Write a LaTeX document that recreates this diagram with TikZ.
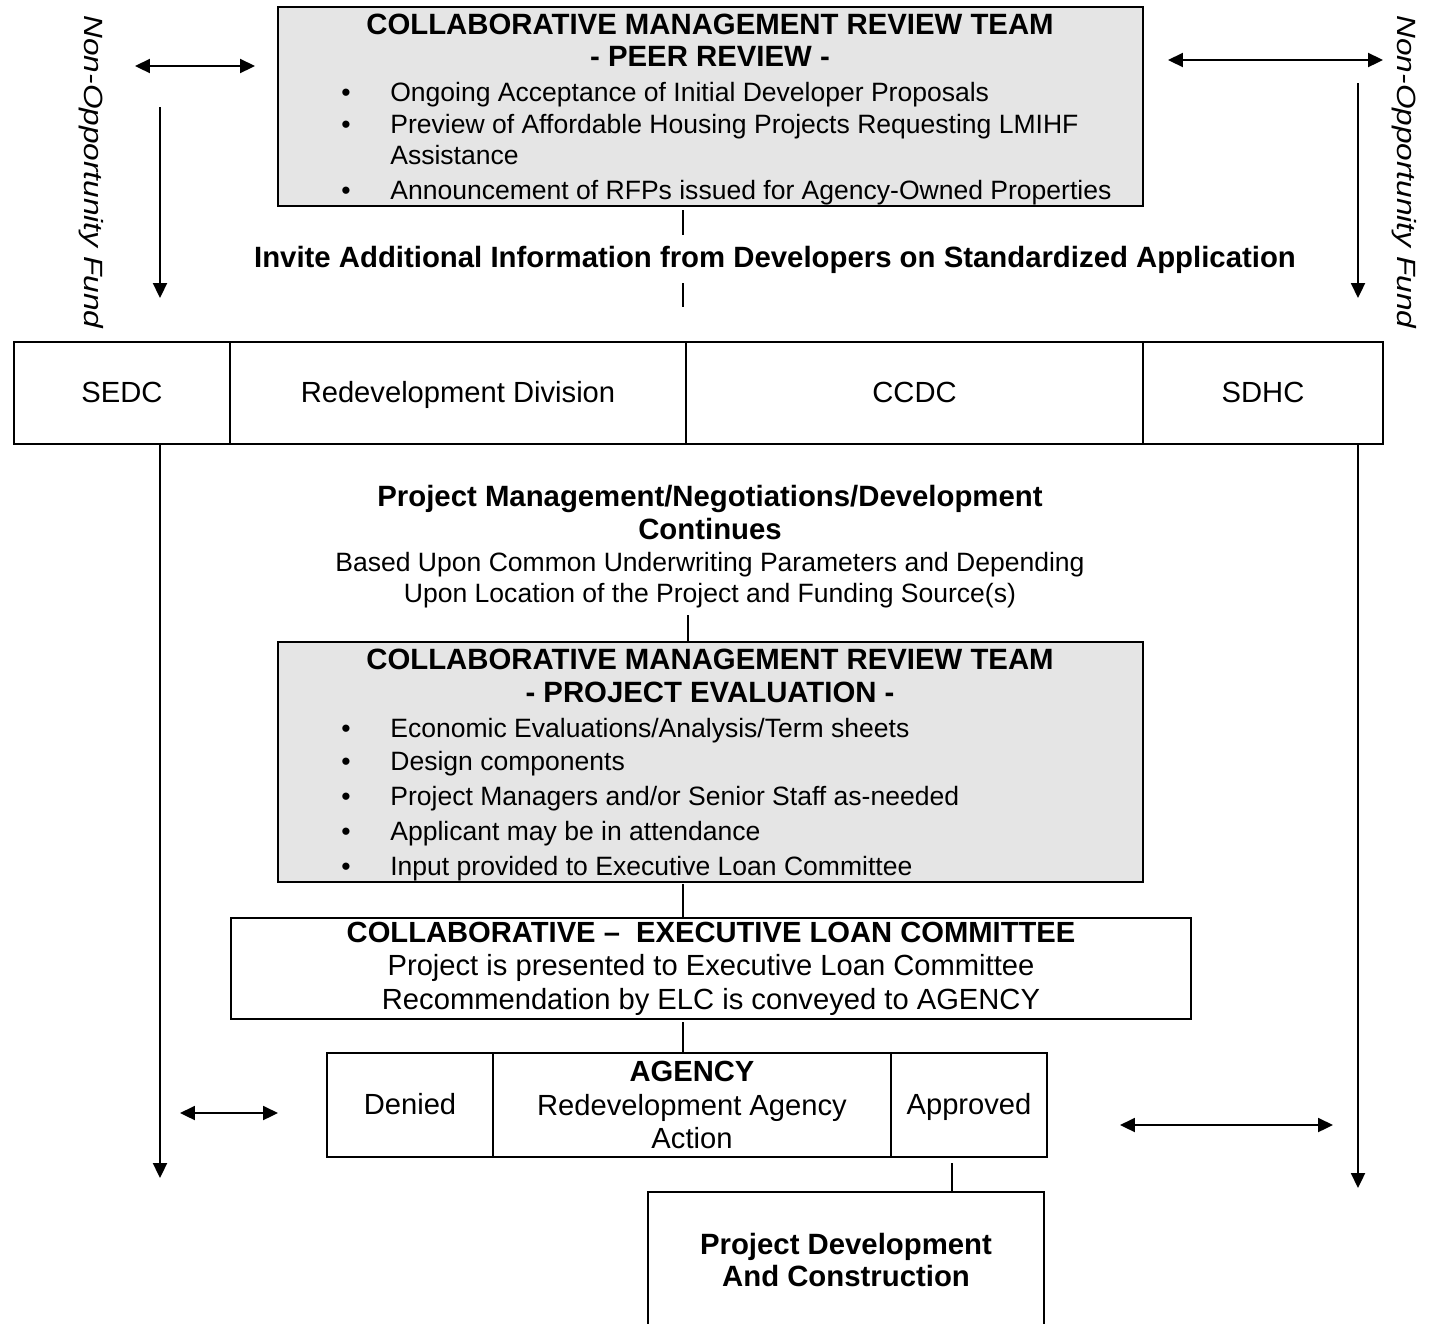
\documentclass[tikz,border=0pt]{standalone}
\usepackage{fontspec}
\setmainfont{Liberation Sans}
\usepackage{tikz}
\usetikzlibrary{arrows.meta}
\usetikzlibrary{positioning}
\definecolor{boxgrey}{gray}{0.9}
\tikzset{box/.style = {draw, line width = 1.2pt, inner sep = 0pt, align = center,
                       font = \fontsize{16.6}{19}\selectfont},
         cell/.style = {box, text height = 12pt, text depth = 1pt},
         greybox/.style = {box, fill = boxgrey},
         txt/.style = {inner sep = 0pt, align = center, text height = 12pt, text depth = 1pt,
                       font = \fontsize{16.6}{19}\selectfont},
         small/.style = {txt, font = \fontsize{15.1}{18}\selectfont},
         bold/.style = {txt, font = \fontsize{16.7}{19}\selectfont\bfseries},
         item/.style = {small, anchor = west},
         fund/.style = {txt, rotate = -90, font = \fontsize{15}{18}\selectfont\itshape},
         link/.style = {line width = 1pt},
         tip/.style = {line width = 1pt, -{Triangle[length = 8.5pt, width = 8pt]}},
         twotip/.style = {line width = 1pt,
                          {Triangle[length = 8.5pt, width = 8pt]}-{Triangle[length = 8.5pt, width = 8pt]}}}

\begin{document}
\begin{tikzpicture}[x = 0.02cm, y = -0.02cm]
      \useasboundingbox (0, 0) rectangle (1433, 1323);

      \node [greybox, minimum width = 17.3cm, minimum height = 3.98cm] (peer) at (710.5, 106.5) {};
      \node [bold] (peert1) at (710, 25) {COLLABORATIVE MANAGEMENT REVIEW TEAM};
      \node [bold] (peert2) at (710, 57) {- PEER REVIEW -};
      \node [small] (peerb1) at (346, 92) {•};
      \node [small] (peerb2) at (346, 124) {•};
      \node [small] (peerb3) at (346, 190) {•};
      \node [item] (peeri1) at (390, 92) {Ongoing Acceptance of Initial Developer Proposals};
      \node [item] (peeri2) at (390, 124) {Preview of Affordable Housing Projects Requesting LMIHF};
      \node [item] (peeri2b) at (390, 155) {Assistance};
      \node [item] (peeri3) at (390, 190) {Announcement of RFPs issued for Agency-Owned Properties};

      \node [bold] (invite) at (775, 258) {Invite Additional Information from Developers on Standardized Application};
      \coordinate (inv1) at (683, 210);
      \coordinate (inv2) at (683, 235);
      \coordinate (inv3) at (683, 283);
      \coordinate (inv4) at (683, 307);
      \draw [link] (inv1) -- (inv2);
      \draw [link] (inv3) -- (inv4);

      \node [fund] (lfund) at (94, 172) {\scalebox{1.2}[1]{Non-Opportunity Fund}};
      \node [fund] (rfund) at (1407, 172) {\scalebox{1.2}[1]{Non-Opportunity Fund}};
      \coordinate (la1) at (135, 66);
      \coordinate (la2) at (255, 66);
      \coordinate (la3) at (160, 107);
      \coordinate (la4) at (160, 298);
      \coordinate (ra1) at (1168, 60);
      \coordinate (ra2) at (1383, 60);
      \coordinate (ra3) at (1358, 83);
      \coordinate (ra4) at (1358, 298);
      \draw [twotip] (la1) -- (la2);
      \draw [tip] (la3) -- (la4);
      \draw [twotip] (ra1) -- (ra2);
      \draw [tip] (ra3) -- (ra4);

      \node [cell, minimum width = 4.32cm, minimum height = 2.04cm] (sedc) at (122, 393) {SEDC};
      \node [cell, minimum width = 9.12cm, minimum height = 2.04cm] (redev) at (458, 393) {Redevelopment Division};
      \node [cell, minimum width = 9.14cm, minimum height = 2.04cm] (ccdc) at (914.5, 393) {CCDC};
      \node [cell, minimum width = 4.8cm, minimum height = 2.04cm] (sdhc) at (1263, 393) {SDHC};

      \coordinate (lfall) at (160, 1178);
      \coordinate (rfall) at (1358, 1188);
      \draw [tip] (sedc.south -| lfall) -- (lfall);
      \draw [tip] (sdhc.south -| rfall) -- (rfall);

      \node [bold] (pm1) at (710, 497) {Project Management/Negotiations/Development};
      \node [bold] (pm2) at (710, 530) {Continues};
      \node [small] (pm3) at (710, 562) {Based Upon Common Underwriting Parameters and Depending};
      \node [small] (pm4) at (710, 593) {Upon Location of the Project and Funding Source(s)};
      \coordinate (pmc) at (688, 615);

      \node [greybox, minimum width = 17.3cm, minimum height = 4.8cm] (eval) at (710.5, 762) {};
      \node [bold] (evalt1) at (710, 660) {COLLABORATIVE MANAGEMENT REVIEW TEAM};
      \node [bold] (evalt2) at (710, 693) {- PROJECT EVALUATION -};
      \node [small] (evalb1) at (346, 728) {•};
      \node [small] (evalb2) at (346, 761) {•};
      \node [small] (evalb3) at (346, 796) {•};
      \node [small] (evalb4) at (346, 831) {•};
      \node [small] (evalb5) at (346, 866) {•};
      \node [item] (evali1) at (390, 728) {Economic Evaluations/Analysis/Term sheets};
      \node [item] (evali2) at (390, 761) {Design components};
      \node [item] (evali3) at (390, 796) {Project Managers and/or Senior Staff as-needed};
      \node [item] (evali4) at (390, 831) {Applicant may be in attendance};
      \node [item] (evali5) at (390, 866) {Input provided to Executive Loan Committee};
      \draw [link] (pmc) -- (pmc |- eval.north);

      \node [box, minimum width = 19.2cm, minimum height = 2.02cm] (elc) at (711, 968.5)
            {\textbf{COLLABORATIVE --\ \ EXECUTIVE LOAN COMMITTEE}\\
             Project is presented to Executive Loan Committee\\
             Recommendation by ELC is conveyed to AGENCY};
      \coordinate (ec) at (683, 884);
      \draw [link] (ec) -- (ec |- elc.north);

      \node [cell, minimum width = 3.32cm, minimum height = 2.08cm] (denied) at (410, 1105) {Denied};
      \node [box, minimum width = 7.96cm, minimum height = 2.08cm] (agency) at (692, 1105)
            {\textbf{AGENCY}\\Redevelopment Agency\\Action};
      \node [cell, minimum width = 3.12cm, minimum height = 2.08cm] (approved) at (969, 1105) {Approved};
      \coordinate (ac) at (683, 1022);
      \draw [link] (ac) -- (ac |- agency.north);

      \coordinate (lb1) at (180, 1113);
      \coordinate (lb2) at (278, 1113);
      \coordinate (rb1) at (1120, 1125);
      \coordinate (rb2) at (1333, 1125);
      \draw [twotip] (lb1) -- (lb2);
      \draw [twotip] (rb1) -- (rb2);

      \node [box, minimum width = 7.92cm, minimum height = 3.2cm] (build) at (846, 1272) {};
      \node [bold] (buildt1) at (846, 1245) {Project Development};
      \node [bold] (buildt2) at (846, 1277) {And Construction};
      \coordinate (bc) at (952, 1163);
      \draw [link] (bc) -- (bc |- build.north);
    \end{tikzpicture}
\end{document}
